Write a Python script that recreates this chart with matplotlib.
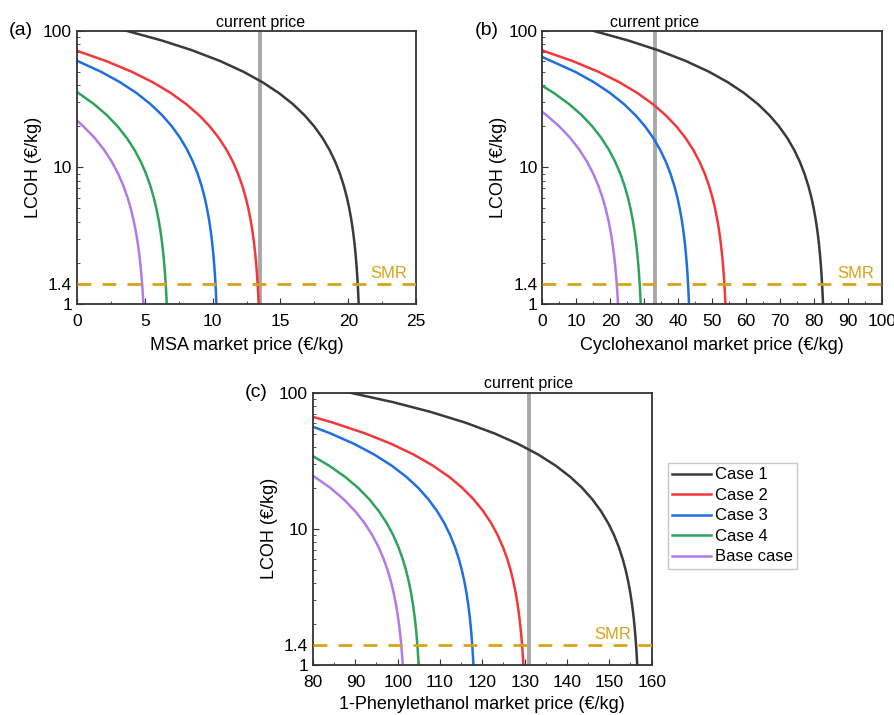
import matplotlib
matplotlib.use('Agg')
import matplotlib.pyplot as plt
from matplotlib.ticker import LogLocator, NullFormatter, MultipleLocator

plt.rcParams['font.family'] = ['Liberation Sans', 'DejaVu Sans']

labels = ['Case 1', 'Case 2', 'Case 3', 'Case 4', 'Base case']
colors = ['#3a3a3a', '#f2383a', '#1f6fe0', '#2ea35c', '#b07be6']

# LCOH levels (€/kg) shared by the lower part of every curve
tail = [20, 16.5, 13.5, 11, 9, 7.3, 6, 5, 4.1, 3.4, 2.8, 2.3, 1.9, 1.6, 1.35, 1.15, 1.0]
top = [100, 85, 72, 60, 50, 42, 35, 29, 24]

# (a) MSA market price
a_x = [
    [3.633, 6.228, 8.478, 10.554, 12.284, 13.668, 14.879, 15.917, 16.782, 17.474, 18.080,
     18.599, 19.031, 19.377, 19.671, 19.896, 20.069, 20.225, 20.346, 20.450, 20.536,
     20.606, 20.657, 20.701, 20.735, 20.761],
    [0, 2.152, 4.057, 5.581, 6.914, 8.057, 9.010, 9.771, 10.438, 11.010, 11.486, 11.867,
     12.190, 12.438, 12.629, 12.800, 12.933, 13.048, 13.143, 13.219, 13.276, 13.324,
     13.362, 13.390],
    [0, 1.785, 3.172, 4.385, 5.425, 6.291, 6.984, 7.591, 8.111, 8.544, 8.891, 9.185,
     9.411, 9.584, 9.740, 9.861, 9.965, 10.052, 10.121, 10.173, 10.217, 10.251, 10.277],
    [0, 1.262, 2.218, 2.983, 3.652, 4.226, 4.704, 5.086, 5.411, 5.660, 5.851, 6.023,
     6.157, 6.272, 6.367, 6.444, 6.501, 6.549, 6.587, 6.616],
    [0, 0.466, 1.282, 1.981, 2.564, 3.030, 3.427, 3.730, 3.963, 4.172, 4.336, 4.476,
     4.592, 4.685, 4.755, 4.814, 4.860, 4.895],
]
a_y = [
    top + tail,
    [71.3, 60, 50, 42, 35, 29, 24] + tail,
    [60.3, 50, 42, 35, 29, 24] + tail,
    [35.6, 29, 24] + tail,
    [22.0] + tail,
]

# (b) Cyclohexanol market price
b_x = [
    [14.911, 25.171, 34.063, 42.271, 49.111, 54.583, 59.371, 63.475, 66.894, 69.630,
     72.025, 74.077, 75.787, 77.155, 78.317, 79.207, 79.891, 80.506, 80.985, 81.395,
     81.737, 82.011, 82.216, 82.387, 82.524, 82.627],
    [0, 8.918, 16.540, 22.637, 27.973, 32.546, 36.357, 39.405, 42.073, 44.360, 46.265,
     47.790, 49.085, 50.076, 50.838, 51.524, 52.058, 52.515, 52.896, 53.201, 53.430,
     53.620, 53.773, 53.887],
    [0, 9.699, 15.164, 19.945, 24.044, 27.459, 30.191, 32.582, 34.631, 36.339, 37.705,
     38.866, 39.754, 40.437, 41.052, 41.530, 41.940, 42.281, 42.555, 42.760, 42.930,
     43.067, 43.169],
    [0, 3.383, 7.895, 11.654, 14.662, 17.293, 19.549, 21.429, 22.932, 24.211, 25.188,
     25.940, 26.617, 27.143, 27.594, 27.970, 28.271, 28.496, 28.684, 28.835, 28.947],
    [0, 1.277, 4.927, 8.120, 10.858, 13.139, 14.964, 16.515, 17.701, 18.613, 19.434,
     20.073, 20.620, 21.077, 21.442, 21.715, 21.943, 22.126, 22.263],
]
b_y = [
    top + tail,
    [71.7, 60, 50, 42, 35, 29, 24] + tail,
    [64.2, 50, 42, 35, 29, 24] + tail,
    [39.5, 35, 29, 24] + tail,
    [25.4, 24] + tail,
]

# (c) 1-Phenylethanol market price
c_x = [
    [88.600, 98.902, 107.831, 116.073, 122.941, 128.435, 133.243, 137.364, 140.798,
     143.545, 145.949, 148.009, 149.726, 151.100, 152.268, 153.160, 153.847, 154.465,
     154.946, 155.358, 155.702, 155.976, 156.182, 156.354, 156.491, 156.595],
    [80, 84.795, 92.405, 98.493, 103.820, 108.387, 112.192, 115.236, 117.900, 120.183,
     122.085, 123.607, 124.901, 125.890, 126.651, 127.336, 127.869, 128.326, 128.706,
     129.011, 129.239, 129.429, 129.582, 129.696],
    [80, 84.195, 89.697, 94.512, 98.638, 102.077, 104.828, 107.235, 109.298, 111.018,
     112.393, 113.563, 114.457, 115.144, 115.763, 116.245, 116.657, 117.001, 117.277,
     117.483, 117.655, 117.792, 117.896],
    [80, 83.846, 87.617, 90.633, 93.273, 95.535, 97.421, 98.929, 100.211, 101.192,
     101.946, 102.624, 103.152, 103.605, 103.982, 104.284, 104.510, 104.698, 104.849,
     104.962],
    [80, 84.061, 87.220, 89.928, 92.184, 93.989, 95.523, 96.697, 97.599, 98.412, 99.043,
     99.585, 100.036, 100.397, 100.668, 100.894, 101.074, 101.209],
]
c_y = [
    top + tail,
    [66.3, 60, 50, 42, 35, 29, 24] + tail,
    [56.1, 50, 42, 35, 29, 24] + tail,
    [34.1, 29, 24] + tail,
    [24.5] + tail,
]

smr = 1.4
current_price = [13.5, 33.1, 131.0]
panels = ['(a)', '(b)', '(c)']
xlabels = ['MSA market price (€/kg)', 'Cyclohexanol market price (€/kg)',
           '1-Phenylethanol market price (€/kg)']
xlims = [(0, 25), (0, 100), (80, 160)]
xmajor = [5, 10, 10]
smr_text_x = [23.0, 92.3, 150.8]

fig = plt.figure(figsize=(8.95, 7.15), dpi=100)
rects = [
    [0.086, 0.575, 0.379, 0.382],
    [0.606, 0.575, 0.3795, 0.382],
    [0.3497, 0.070, 0.3784, 0.381],
]
data = [(a_x, a_y), (b_x, b_y), (c_x, c_y)]
xlab_y = [-0.122, -0.122, -0.115]

for i in range(3):
    ax = fig.add_axes(rects[i])
    xs, ys = data[i]
    for j in range(5):
        ax.plot(xs[j], ys[j], color=colors[j], lw=1.8, label=labels[j])
    ax.axvline(current_price[i], color='#a8a8a8', lw=2.8, zorder=1)
    ax.axhline(smr, color='#d9a21b', lw=2, dashes=(5, 4), zorder=3)
    ax.set_yscale('log')
    ax.set_ylim(1, 100)
    ax.set_xlim(*xlims[i])
    ax.set_yticks([1, 1.4, 10, 100])
    ax.set_yticklabels(['1', '1.4', '10', '100'])
    ax.yaxis.set_minor_locator(LogLocator(base=10, subs=range(2, 10)))
    ax.yaxis.set_minor_formatter(NullFormatter())
    ax.xaxis.set_major_locator(MultipleLocator(xmajor[i]))
    ax.xaxis.set_minor_locator(MultipleLocator(xmajor[i] / 2))
    ax.tick_params(which='both', direction='in', labelsize=12.5, color='#333333')
    ax.tick_params(which='major', length=4)
    ax.tick_params(which='minor', length=2.5)
    ax.tick_params(axis='x', pad=7)
    for s in ax.spines.values():
        s.set_color('#333333')
        s.set_linewidth(1.3)
    ax.set_xlabel(xlabels[i], fontsize=13)
    ax.set_ylabel('LCOH (€/kg)', fontsize=13)
    ax.xaxis.set_label_coords(0.5, xlab_y[i])
    ax.yaxis.set_label_coords(-0.104, 0.5)
    ax.text(current_price[i], 102, 'current price', ha='center', va='bottom',
            fontsize=11.5)
    ax.text(smr_text_x[i], 1.47, 'SMR', ha='center', va='bottom', fontsize=12,
            color='#d9a21b')
    ax.text(-0.2, 1.0, panels[i], transform=ax.transAxes,
            ha='left', va='center', fontsize=14)
    if i == 2:
        handles, labs = ax.get_legend_handles_labels()
        fig.legend(handles[:5], labs[:5], loc='upper left',
                   bbox_to_anchor=(0.7467, 0.352), borderaxespad=0,
                   fontsize=12, frameon=True, fancybox=False,
                   edgecolor='#bbbbbb', handlelength=2.3, handletextpad=0.25,
                   labelspacing=0.33, borderpad=0.25)

fig.savefig('out.png', dpi=100)
